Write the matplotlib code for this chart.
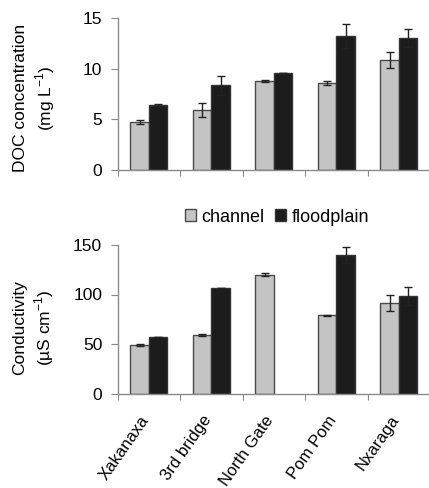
import matplotlib
matplotlib.use("Agg")
import matplotlib.pyplot as plt
from matplotlib.patches import Patch
import numpy as np

plt.rcParams['font.family'] = ['Liberation Sans', 'DejaVu Sans']
plt.rcParams['mathtext.fontset'] = 'custom'
plt.rcParams['mathtext.rm'] = 'Liberation Sans'

sites = ["Xakanaxa", "3rd bridge", "North Gate", "Pom Pom", "Nxaraga"]
doc_channel = [4.7, 5.9, 8.8, 8.55, 10.85]
doc_channel_err = [0.2, 0.7, 0.1, 0.2, 0.8]
doc_flood = [6.4, 8.35, 9.6, 13.2, 13.0]
doc_flood_err = [0.1, 0.95, 0.0, 1.2, 0.9]
cond_channel = [49, 59, 120, 79, 91.7]
cond_channel_err = [1.0, 1.0, 1.5, 0.5, 8.0]
cond_flood = [57.5, 107, 0, 140, 98.3]
cond_flood_err = [0.0, 0.0, 0.0, 8.0, 9.0]

W, H = 429, 488
fig = plt.figure(figsize=(W / 100, H / 100), dpi=100)

left = 117.5 / W
width = (430.0 - 117.5) / W
ax1 = fig.add_axes([left, (H - 170) / H, width, 152 / H])
ax2 = fig.add_axes([left, (H - 393.5) / H, width, 148.5 / H])

c_ch = "#c4c4c4"
c_fl = "#1c1c1c"
edge = "#4a4a4a"
spine_c = "#8a8a8a"
bw = 0.296
x = np.arange(len(sites)) + 0.5


def draw(ax, ch, che, fl, fle, ylim, yticks):
    ekw = dict(elinewidth=1.0, capthick=1.0, ecolor="#222222")
    ax.bar(x - bw / 2, ch, bw, color=c_ch, edgecolor=edge, linewidth=1.0,
           yerr=che, capsize=3, error_kw=ekw)
    flv = np.array(fl, dtype=float)
    fle = np.array(fle, dtype=float)
    mask = flv > 0
    ax.bar((x + bw / 2)[mask], flv[mask], bw, color=c_fl, edgecolor="#333333",
           linewidth=1.0, yerr=fle[mask], capsize=3, error_kw=ekw)
    ax.set_xlim(0, len(sites))
    ax.set_ylim(*ylim)
    ax.set_yticks(yticks)
    for s in ["top", "right"]:
        ax.spines[s].set_visible(False)
    for s in ["left", "bottom"]:
        ax.spines[s].set_color(spine_c)
        ax.spines[s].set_linewidth(1.0)
    ax.set_xticks(np.arange(len(sites) + 1))
    ax.set_xticklabels([])
    ax.tick_params(axis="x", which="major", length=4, color=spine_c, direction="out")
    ax.tick_params(axis="y", length=5, color=spine_c, labelsize=12.5, pad=6)
    ax.set_xticks(x, minor=True)
    ax.tick_params(axis="x", which="minor", length=0)


draw(ax1, doc_channel, doc_channel_err, doc_flood, doc_flood_err, (0, 15), [0, 5, 10, 15])
draw(ax2, cond_channel, cond_channel_err, cond_flood, cond_flood_err, (0, 150), [0, 50, 100, 150])

ax2.set_xticks(x - 0.05, minor=True)
ax2.set_xticklabels(sites, minor=True, rotation=55, ha="right", va="center",
                    rotation_mode="anchor", fontsize=12)
ax2.tick_params(axis="x", which="minor", pad=17)

fig.text(35 / W, (H - 98) / H, "DOC concentration\n(mg L$^{-1}$)", rotation=90,
         ha="center", va="center", multialignment="center", fontsize=12.5,
         linespacing=1.3)
fig.text(34 / W, (H - 328) / H, "Conductivity\n(µS cm$^{-1}$)", rotation=90,
         ha="center", va="center", multialignment="center", fontsize=12.5,
         linespacing=1.3)

handles = [Patch(facecolor=c_ch, edgecolor=edge, label="channel"),
           Patch(facecolor=c_fl, edgecolor="#333333", label="floodplain")]
fig.legend(handles=handles, loc="center", bbox_to_anchor=(277 / W, (H - 217) / H),
           ncol=2, frameon=False, fontsize=13, handlelength=0.6, handleheight=0.6,
           handletextpad=0.3, columnspacing=0.6, borderpad=0)

fig.savefig("out.png", dpi=100)
